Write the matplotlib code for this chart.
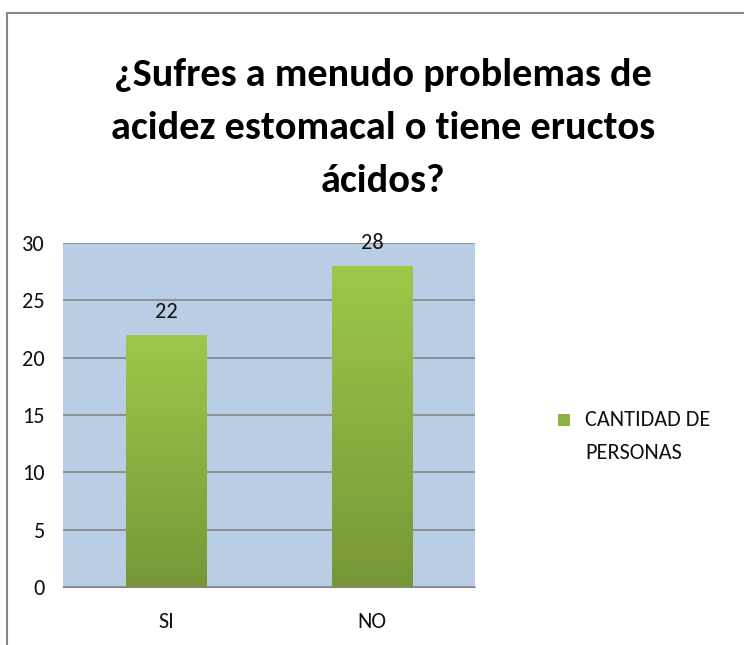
import numpy as np
import matplotlib.pyplot as plt
import matplotlib.patches as patches
from matplotlib.colors import LinearSegmentedColormap

categories = ["SI", "NO"]
values = [22, 28]
series_name = "CANTIDAD DE\nPERSONAS"
title = "¿Sufres a menudo problemas de\nacidez estomacal o tiene eructos\nácidos?"
yticks = [0, 5, 10, 15, 20, 25, 30]

plt.rcParams['font.family'] = ['Carlito', 'DejaVu Sans']
bar_color = '#8DB443'

fig = plt.figure(figsize=(7.44, 6.45), dpi=100)
# outer chart border
fig.patches.append(patches.Rectangle((7 / 744, -0.01), 1.0, 1 - 13 / 645 + 0.01,
                                     transform=fig.transFigure, fill=False,
                                     edgecolor='#868686', linewidth=1.5))

ax = fig.add_axes([63 / 744, 1 - 587 / 645, 412 / 744, 344 / 645])
ax.set_facecolor('#B9CDE5')
ax.yaxis.grid(True, color='#868686', linewidth=1.2)
ax.set_axisbelow(True)
for s in ['top', 'right', 'left']:
    ax.spines[s].set_visible(False)
ax.spines['bottom'].set_color('#868686')
ax.tick_params(length=0, labelsize=16, pad=13, labelcolor='#111111')
ax.tick_params(axis='x', pad=18)

x = np.arange(len(categories))
green = LinearSegmentedColormap.from_list('g', ['#779737', '#9DC84A'])
grad = np.linspace(0, 1, 256).reshape(-1, 1)
bars = ax.bar(x, values, width=0.39, color=bar_color, label=series_name, zorder=2)
for b in bars:
    b.set_facecolor('none')
    img = ax.imshow(grad, cmap=green, origin='lower', aspect='auto', zorder=2,
                    extent=[b.get_x(), b.get_x() + b.get_width(), 0, b.get_height()])
    img.set_clip_path(b)
    ax.text(b.get_x() + b.get_width() / 2, b.get_height() + 1.1, str(int(b.get_height())),
            ha='center', va='bottom', fontsize=16, color='#111111')
ax.set_xlim(-0.5, 1.5)
ax.set_ylim(0, 30)
ax.set_yticks(yticks)
ax.set_xticks(x)
ax.set_xticklabels(categories)

# legend: square marker next to two-line label
fig.patches.append(patches.Rectangle((558 / 744, 1 - 426 / 645), 12 / 744, 12 / 645,
                                     transform=fig.transFigure, facecolor=bar_color,
                                     edgecolor='none'))
fig.text(585 / 744, 1 - 410 / 645, series_name, ha='left', va='top', fontsize=16,
         linespacing=1.8, color='#111111')

fig.text(383 / 744, 1 - 128 / 645, title, ha='center', va='center', fontsize=29,
         fontweight='bold', linespacing=1.69, color='#000000')

fig.savefig('out.png', dpi=100)
